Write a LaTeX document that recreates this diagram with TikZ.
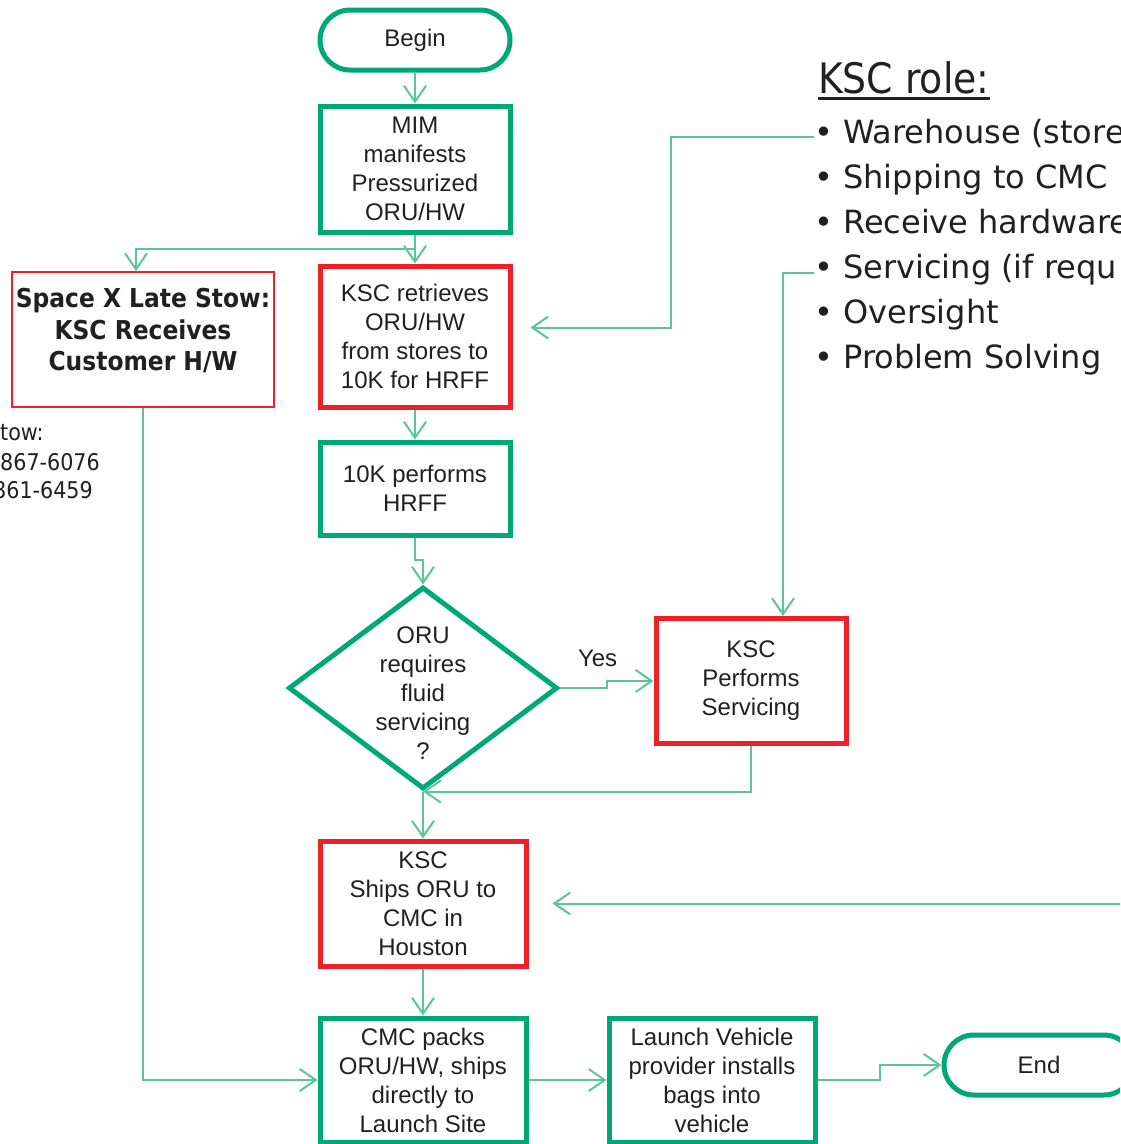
\documentclass[tikz,border=0pt]{standalone}
\usepackage{fontspec}
\setmainfont{Liberation Sans}
\newfontfamily\rolefont{DejaVu Sans}
\newfontfamily\titlefont{DejaVu Sans Condensed}
\usetikzlibrary{arrows.meta,positioning,shapes.geometric}
\definecolor{boxgreen}{RGB}{0,168,120}
\definecolor{linkgreen}{RGB}{92,196,154}
\definecolor{boxred}{RGB}{237,34,40}
\definecolor{ink}{RGB}{35,31,32}

\begin{document}
\begin{tikzpicture}[x=1pt,y=-1pt,line join=miter,
  every node/.style={text=ink,font=\fontsize{24}{29}\selectfont,align=center},
  link/.style={draw=linkgreen,line width=2pt,-{Straight Barb[length=16pt,width=22pt]}},
  term/.style={draw=boxgreen,line width=5pt,rounded corners=30pt,minimum width=190pt,minimum height=60pt,inner sep=0pt},
  task/.style={draw=boxgreen,line width=5pt,minimum width=190pt,inner sep=0pt},
  ksc/.style={task,draw=boxred},
  choice/.style={diamond,draw=boxgreen,line width=5pt,minimum width=269pt,minimum height=202pt,inner sep=0pt},
  late/.style={draw=boxred,line width=2pt,minimum width=254pt,minimum height=135pt,text depth=20pt,
    font=\titlefont\bfseries\fontsize{26}{31.5}\selectfont},
  phone/.style={anchor=west,inner sep=0pt,font=\titlefont\fontsize{23}{29}\selectfont},
  item/.style={anchor=base west,inner sep=0pt,font=\rolefont\fontsize{32}{38}\selectfont}]
  \useasboundingbox (0,0) rectangle (1120,1144);
  \clip (0,0) rectangle (1120,1144);

  \node[term]                           (begin)               at (415,40)  {Begin};
  \node[task,minimum height=126pt]      (mim)    [below=31pt of begin]       {MIM\\manifests\\Pressurized\\ORU/HW};
  \node[ksc,minimum height=141pt]       (fetch)  [below=29pt of mim]         {KSC retrieves\\ORU/HW\\from stores to\\10K for HRFF};
  \node[task,minimum height=93pt]       (tenk)   [below=30pt of fetch]       {10K performs\\HRFF};
  \node[choice,label={[name=orutext,yshift=-5pt]center:ORU\\requires\\fluid\\servicing\\?}]
                                        (oru)                 at (423,688) {};
  \node[ksc,minimum height=125pt]       (serv)                at (751,681) {KSC\\Performs\\Servicing};
  \node[ksc,minimum width=206pt,minimum height=125pt]
                                        (ship)   [below=47pt of oru]         {KSC\\Ships ORU to\\CMC in\\Houston};
  \node[task,minimum width=206pt,minimum height=124pt]
                                        (cmc)    [below=47pt of ship]        {CMC packs\\ORU/HW, ships\\directly to\\Launch Site};
  \node[task,minimum width=206pt,minimum height=124pt]
                                        (launch) [right=78pt of cmc]         {Launch Vehicle\\provider installs\\bags into\\vehicle};
  \node[term]                           (end)                 at (1039,1065) {End};
  \node[late]                           (spacex)              at (143,339.5) {Space X Late Stow:\\KSC Receives\\Customer H/W};

  \node[phone] (stowa) at (0,433)  {tow:};
  \node[phone] (stowb) at (0,462)  {867-6076};
  \node[phone] (stowc) at (-7,490) {861-6459};

  \node[anchor=base west,inner sep=0pt,font=\titlefont\fontsize{42}{50}\selectfont] (role) at (818,93.5) {KSC role:};
  \draw[ink,line width=3pt] ([yshift=-4.5pt]role.base west) -- ([yshift=-4.5pt]role.base east);
  \foreach \txt [count=\i] in {Warehouse (store,Shipping to CMC,Receive hardware,Servicing (if requ,Oversight,Problem Solving}
    \node[item] (role\i) at (814,{143+45*(\i-1)}) {• \txt};

  \coordinate (fetchin) at ([xshift=18pt,yshift=9pt]fetch.east);
  \coordinate (edgex) at (1125,0);

  \path (begin) edge[link] (mim)
        (mim)   edge[link] (fetch)
        (fetch) edge[link] (tenk)
        (oru)   edge[link] (ship)
        (ship)  edge[link] (cmc)
        (cmc)   edge[link] (launch)
        (ship.east -| edgex) edge[link] ([xshift=24pt]ship.east);
  \draw[link] (mim.south) ++(0,14) -| ([xshift=-7pt]spacex.north);
  \draw[link] (tenk.south) -- ++(0,22) -| (oru.north);
  \draw[link] (oru.east) -- ++(47,0) node[pos=0.8,yshift=30pt] (yes) {Yes} |- (serv.west);
  \draw[link] (serv.south) |- (oru.south);
  \draw[link] (spacex.south) |- (cmc.west);
  \draw[link] (launch.east) -- ++(62,0) |- (end.west);
  \draw[link] ([yshift=-4pt]role1.west) -| ([xshift=140pt]fetchin) -- (fetchin);
  \draw[link] ([yshift=-4pt]role4.west) -| ([xshift=32pt]serv.north);
\end{tikzpicture}
\end{document}
